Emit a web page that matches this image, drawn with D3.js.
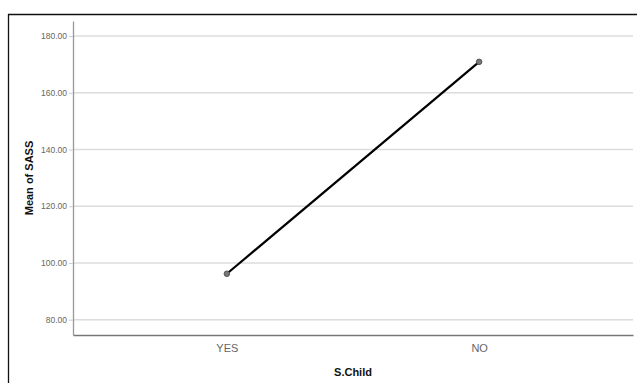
<!DOCTYPE html>
<html><head><meta charset="utf-8">
<script src="https://cdn.jsdelivr.net/npm/d3@7"></script>
<style>body{margin:0;background:#fff;} svg{display:block;}</style>
</head><body>
<svg id="c" width="637" height="383"></svg>
<script>
const categories = ["YES", "NO"];
const meanSASS = [96.2, 170.9];
const yTicks = [80, 100, 120, 140, 160, 180];
const xTitle = "S.Child";
const yTitle = "Mean of SASS";

(function () {
const svg = d3.select("#c");
const mLeft = 73, mRight = 633, mTop = 21, mBottom = 335;
const font = "Arial, 'Liberation Sans', sans-serif";

// outer frame (top and left)
svg.append("line").attr("x1", 8).attr("x2", 637).attr("y1", 14.5).attr("y2", 14.5).attr("stroke", "#111").attr("stroke-width", 1.3);
svg.append("line").attr("x1", 8.5).attr("x2", 8.5).attr("y1", 14).attr("y2", 383).attr("stroke", "#111").attr("stroke-width", 1.3);

const x = d3.scalePoint().domain(categories).range([mLeft, mRight]).padding(0.61);
const y = d3.scaleLinear().domain([74.6, 185.3]).range([mBottom, mTop]);

// gridlines
svg.append("g").selectAll("line").data(yTicks).join("line")
  .attr("x1", mLeft).attr("x2", mRight)
  .attr("y1", d => y(d)).attr("y2", d => y(d))
  .attr("stroke", "#dcdcdc").attr("stroke-width", 1.4);

// y axis
const yAxis = d3.axisLeft(y).tickValues(yTicks).tickFormat(d3.format(".2f")).tickSizeInner(4).tickSizeOuter(0).tickPadding(2);
const gy = svg.append("g").attr("transform", `translate(${mLeft},0)`).call(yAxis);
gy.select(".domain").attr("stroke", "#999").attr("stroke-width", 1.3);
gy.selectAll(".tick line").attr("stroke", "#ccc");
gy.selectAll(".tick text").attr("fill", "#666").attr("font-size", 8.5).attr("font-family", font);

// x axis
const xAxis = d3.axisBottom(x).tickSizeInner(0).tickSizeOuter(0).tickPadding(9);
const gx = svg.append("g").attr("transform", `translate(0,${mBottom})`).call(xAxis);
gx.select(".domain").attr("stroke", "#777").attr("stroke-width", 1.3);
gx.selectAll(".tick text").attr("fill", "#666").attr("font-size", 11).attr("font-family", font);

// line
const data = categories.map((c, i) => ({c, v: meanSASS[i]}));
svg.append("path").datum(data)
  .attr("d", d3.line().x(d => x(d.c)).y(d => y(d.v)))
  .attr("fill", "none").attr("stroke", "#000").attr("stroke-width", 2.2);
svg.append("g").selectAll("circle").data(data).join("circle")
  .attr("cx", d => x(d.c)).attr("cy", d => y(d.v)).attr("r", 2.8)
  .attr("fill", "#777").attr("stroke", "#444").attr("stroke-width", 0.8);

// titles
svg.append("text").attr("x", 353).attr("y", 376).attr("text-anchor", "middle")
  .attr("font-family", font).attr("font-weight", "bold").attr("font-size", 11).attr("fill", "#111").text(xTitle);
svg.append("text").attr("transform", `translate(33,${(mTop + mBottom) / 2}) rotate(-90)`).attr("text-anchor", "middle")
  .attr("font-family", font).attr("font-weight", "bold").attr("font-size", 11).attr("fill", "#111").text(yTitle);
})();
</script>
</body></html>
